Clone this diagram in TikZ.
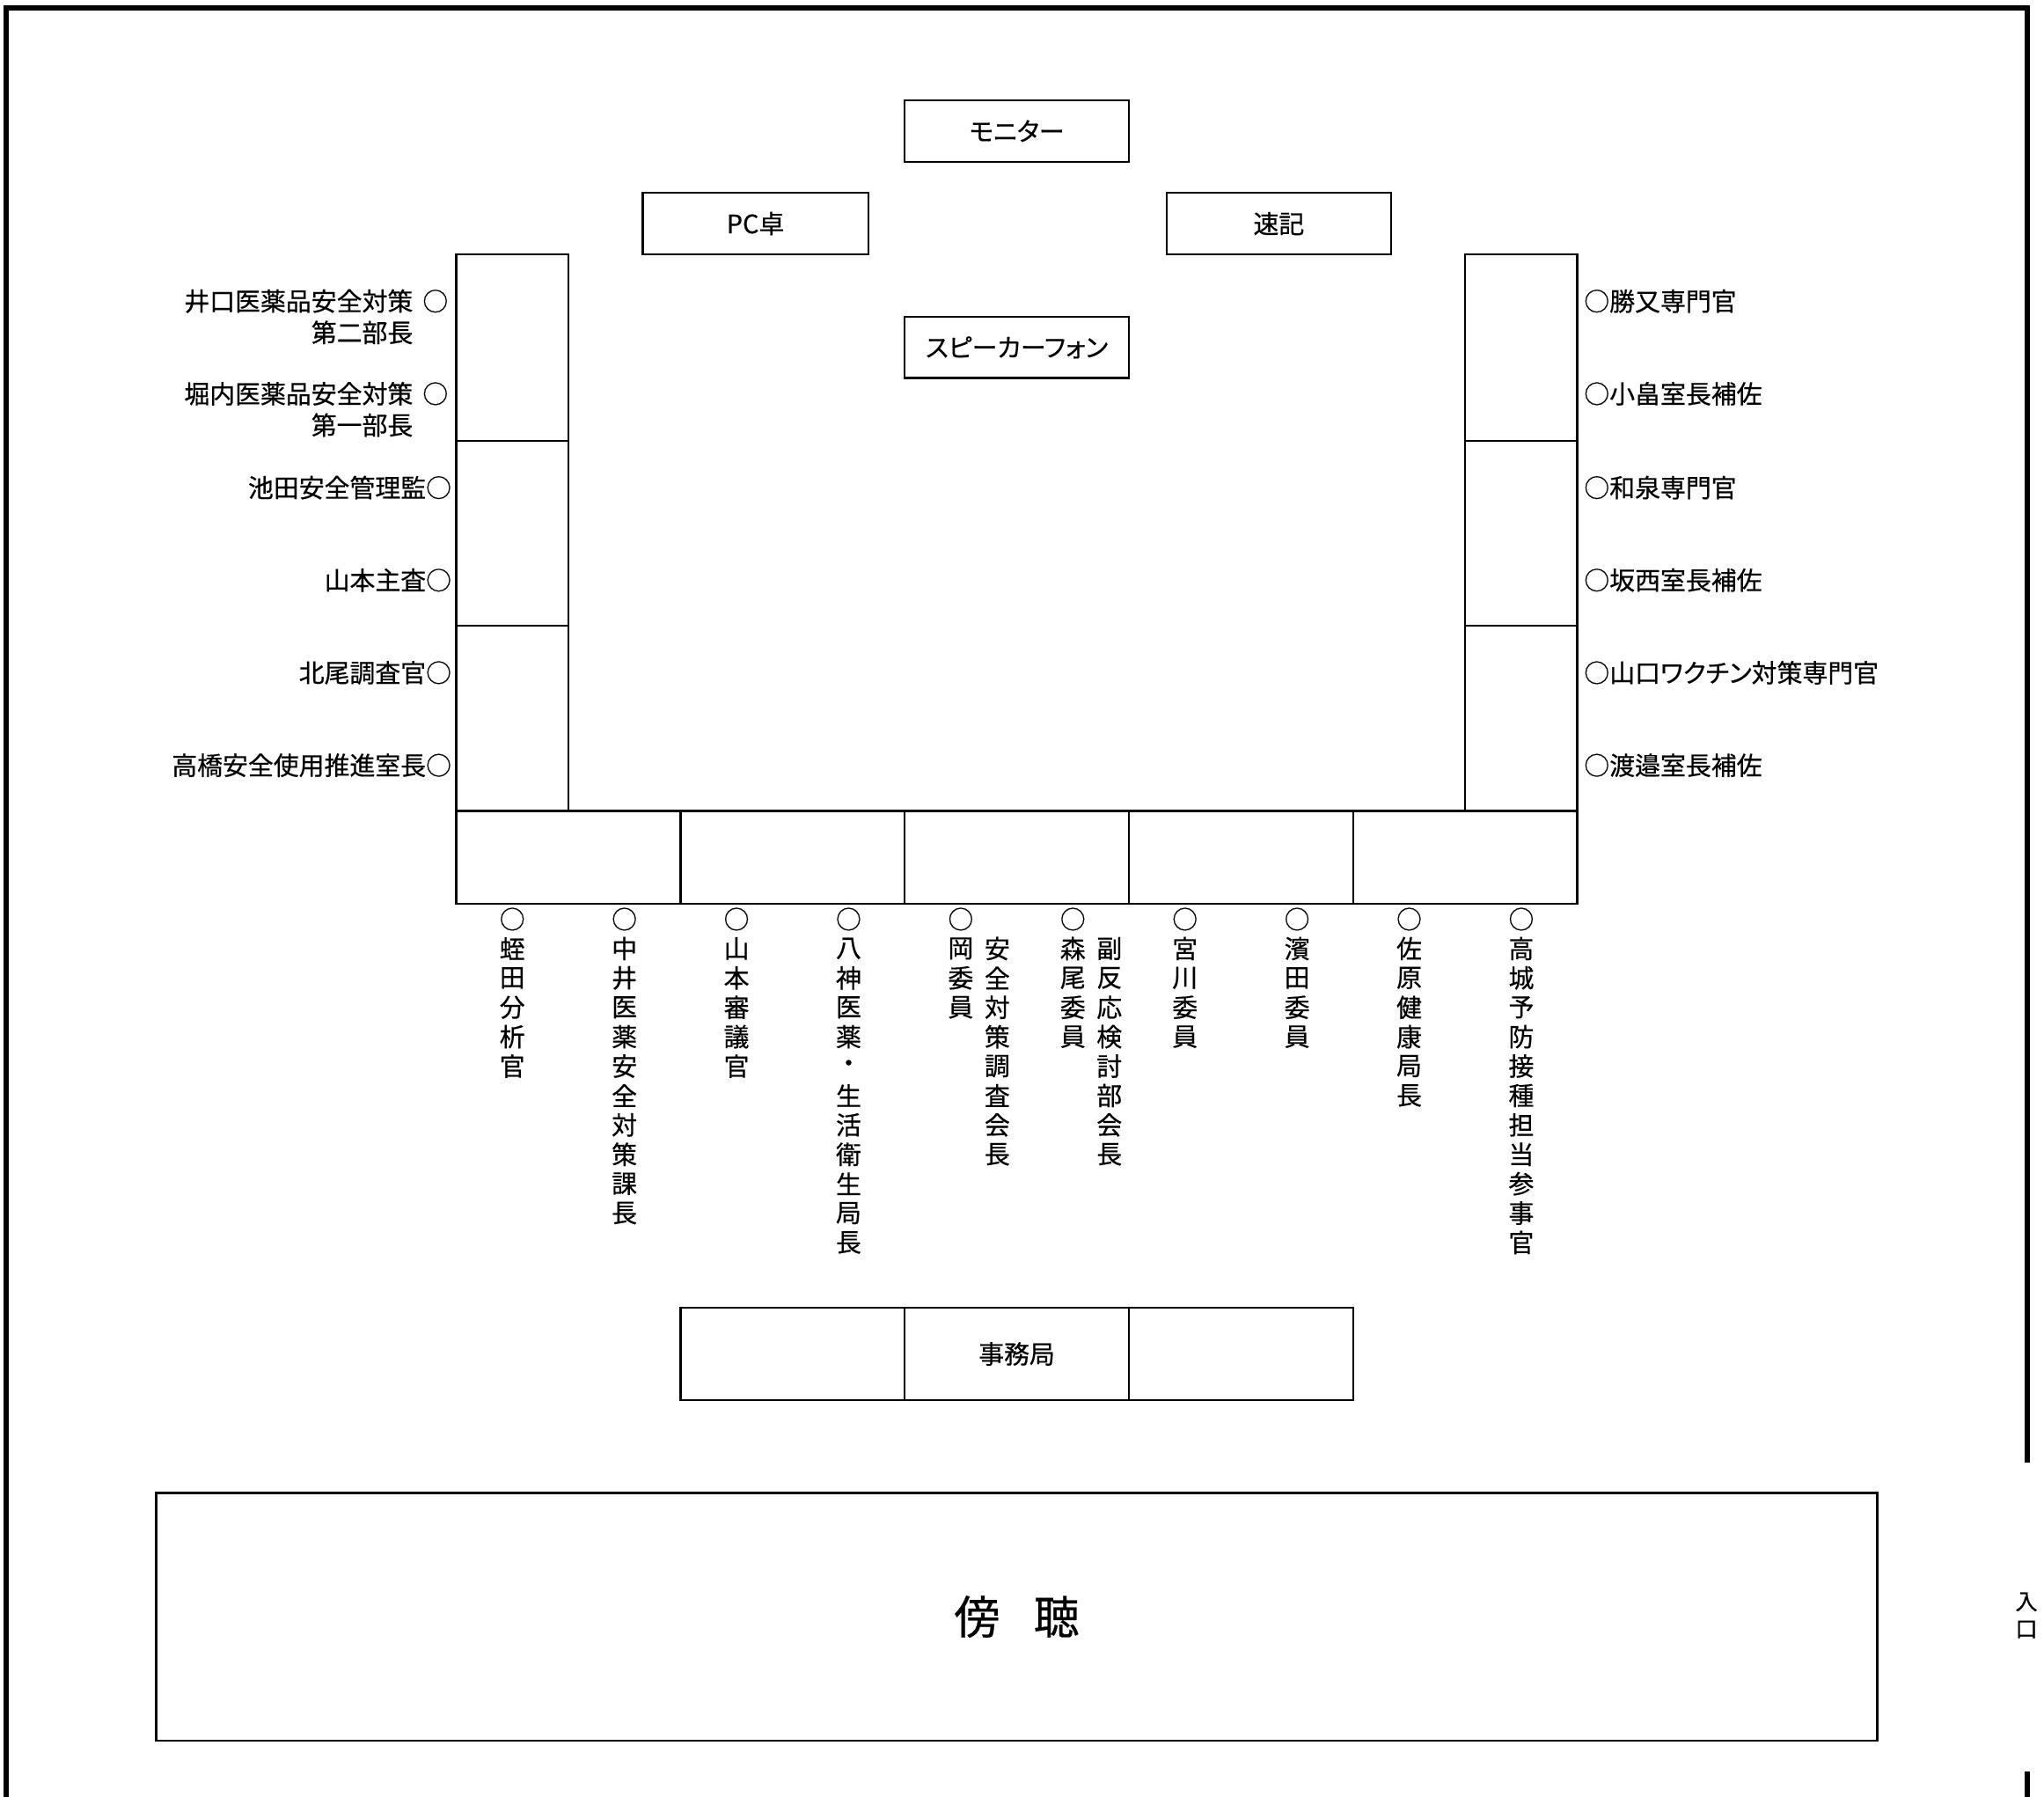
\documentclass[tikz,border=0pt]{standalone}
\usepackage{fontspec}
\setmainfont{Noto Sans CJK JP}[FakeBold=0.5]
\newfontfamily\jpp{Noto Sans CJK JP}[RawFeature=+palt,FakeBold=0.5]
\newcommand\jpfont{\fontsize{19.5}{23}\selectfont}
\newcommand\vcolumn[4]{%
  \foreach \c [count=\i from #3] in {#4} {%
    \node[vch] (#1-\i) at (#2,{705+22.55*\i}) {\c};}}
\begin{document}
\begin{tikzpicture}[x=1pt,y=-1pt,
  box/.style={draw,line width=1.6pt,inner sep=0pt,font=\jpfont},
  lbl/.style={inner sep=0pt,font=\jpfont},
  vch/.style={inner sep=0pt,font=\jpfont},
  frame/.style={line width=4pt}]
\useasboundingbox (0,0) rectangle (1568,1378);

% room frame
\coordinate (f1) at (5,1385);
\coordinate (f2) at (5,6);
\coordinate (f3) at (1555,6);
\coordinate (f4) at (1555,1122);
\coordinate (f5) at (1555,1359);
\coordinate (f6) at (1555,1385);
\draw[frame] (f1) -- (f2) -- (f3) -- (f4);
\draw[frame] (f5) -- (f6);
\node[inner sep=0pt,font=\fontsize{17}{21}\selectfont,align=center] (entr) at (1554.5,1239) {入\\口};

% top equipment
\node[box,minimum width=172pt,minimum height=47pt] (mon) at (780,100.5) {\jpp モニター};
\node[box,minimum width=173pt,minimum height=47pt] (pc) at (579.5,171.5) {PC卓};
\node[box,minimum width=172pt,minimum height=47pt] (sk) at (981,171.5) {速記};
\node[box,minimum width=172pt,minimum height=47pt] (spk) at (780,266.5) {\jpp スピーカーフォン};

% left column tables
\node[box,minimum width=86pt,minimum height=143pt] (L1) at (393,266.5) {};
\node[box,minimum width=86pt,minimum height=142pt] (L2) at (393,409) {};
\node[box,minimum width=86pt,minimum height=142pt] (L3) at (393,551) {};
% right column tables
\node[box,minimum width=86pt,minimum height=143pt] (R1) at (1167,266.5) {};
\node[box,minimum width=86pt,minimum height=142pt] (R2) at (1167,409) {};
\node[box,minimum width=86pt,minimum height=142pt] (R3) at (1167,551) {};
% bottom row tables
\node[box,minimum width=172pt,minimum height=71pt] (B1) at (436,657.5) {};
\node[box,minimum width=172pt,minimum height=71pt] (B2) at (608,657.5) {};
\node[box,minimum width=172pt,minimum height=71pt] (B3) at (780,657.5) {};
\node[box,minimum width=172pt,minimum height=71pt] (B4) at (952,657.5) {};
\node[box,minimum width=172pt,minimum height=71pt] (B5) at (1124,657.5) {};
% secretariat
\node[box,minimum width=172pt,minimum height=71pt] (O1) at (608,1038.5) {};
\node[box,minimum width=172pt,minimum height=71pt] (O2) at (780,1038.5) {事務局};
\node[box,minimum width=172pt,minimum height=71pt] (O3) at (952,1038.5) {};
% public gallery
\node[box,minimum width=1320pt,minimum height=190pt,line width=1.8pt,
      font=\fontsize{35}{40}\selectfont] (gal) at (780,1240) {傍\hspace{26pt}聴};

% left labels
\node[lbl,anchor=east] (l1a) at (317,231) {井口医薬品安全対策};
\node[lbl,anchor=east] (l1b) at (317,255) {第二部長};
\node[lbl] (l1c) at (334,231) {○};
\node[lbl,anchor=east] (l2a) at (317,302) {堀内医薬品安全対策};
\node[lbl,anchor=east] (l2b) at (317,326) {第一部長};
\node[lbl] (l2c) at (334,302) {○};
\node[lbl,anchor=east] (l3) at (346.5,374) {池田安全管理監○};
\node[lbl,anchor=east] (l4) at (346.5,445) {山本主査○};
\node[lbl,anchor=east] (l5) at (346.5,516) {北尾調査官○};
\node[lbl,anchor=east] (l6) at (346.5,587) {高橋安全使用推進室長○};

% right labels
\node[lbl,anchor=west] (r1) at (1215,231) {○勝又専門官};
\node[lbl,anchor=west] (r2) at (1215,302) {○小畠室長補佐};
\node[lbl,anchor=west] (r3) at (1215,374) {○和泉専門官};
\node[lbl,anchor=west] (r4) at (1215,445) {○坂西室長補佐};
\node[lbl,anchor=west] (r5) at (1215,516) {○山口{\jpp ワクチン}対策専門官};
\node[lbl,anchor=west] (r6) at (1215,587) {○渡邉室長補佐};

% bottom vertical labels
\vcolumn{ca}{393}{0}{○,蛭,田,分,析,官}
\vcolumn{cb}{479}{0}{○,中,井,医,薬,安,全,対,策,課,長}
\vcolumn{cc}{565}{0}{○,山,本,審,議,官}
\vcolumn{cd}{651}{0}{○,八,神,医,薬,・,生,活,衛,生,局,長}
\vcolumn{ce}{737}{0}{○,岡,委,員}
\vcolumn{cf}{765}{1}{安,全,対,策,調,査,会,長}
\vcolumn{cg}{823}{0}{○,森,尾,委,員}
\vcolumn{ch}{851}{1}{副,反,応,検,討,部,会,長}
\vcolumn{ci}{909}{0}{○,宮,川,委,員}
\vcolumn{cj}{995}{0}{○,濱,田,委,員}
\vcolumn{ck}{1081}{0}{○,佐,原,健,康,局,長}
\vcolumn{cl}{1167}{0}{○,高,城,予,防,接,種,担,当,参,事,官}
\end{tikzpicture}
\end{document}
